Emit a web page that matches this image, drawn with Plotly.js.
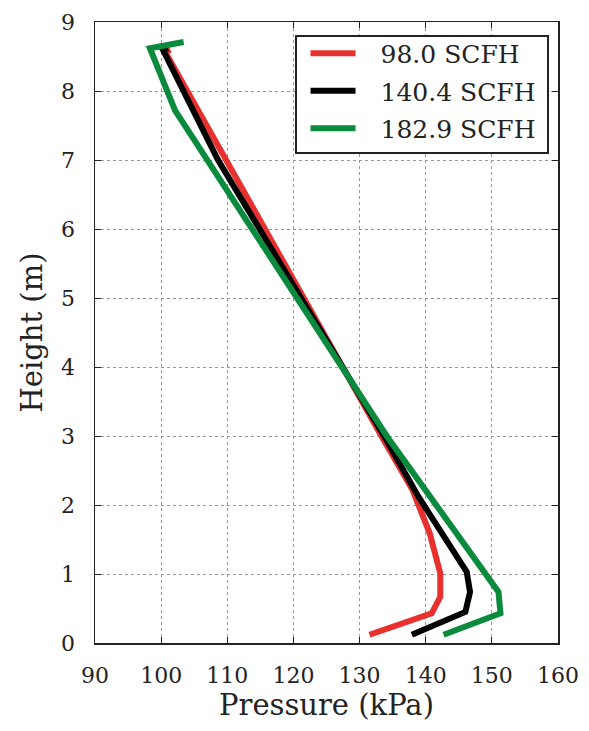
<!DOCTYPE html>
<html><head><meta charset="utf-8">
<script src="https://cdn.plot.ly/plotly-3.0.1.min.js"></script>
<style>html,body{margin:0;padding:0;background:#fff}#chart{width:589px;height:731px}</style>
</head><body><div id="chart"></div>
<script>
const seriesNames = ["98.0 SCFH", "140.4 SCFH", "182.9 SCFH"];
const seriesColors = ["#e8302f", "#000000", "#0a8a3c"];

const redHeight   = [0.12, 0.43, 0.67, 1.01, 1.59, 2.22, 3.0, 8.57, 8.6];
const redPressure = [131.5, 140.9, 142.2, 142.2, 140.6, 138.0, 133.3, 100.6, 101.4];

const blackHeight   = [0.12, 0.45, 0.74, 1.03, 2.12, 3.0, 7.0, 8.59, 8.62];
const blackPressure = [137.9, 146.0, 146.7, 146.2, 138.9, 133.7, 108.6, 100.3, 101.0];

const greenHeight   = [0.12, 0.43, 0.74, 3.0, 7.72, 8.62, 8.71];
const greenPressure = [142.7, 151.3, 151.0, 134.1, 102.1, 98.3, 103.4];

const xTicks = [90, 100, 110, 120, 130, 140, 150, 160];
const yTicks = [0, 1, 2, 3, 4, 5, 6, 7, 8, 9];

const xs = [redPressure, blackPressure, greenPressure];
const ys = [redHeight, blackHeight, greenHeight];
const FONT = "DejaVu Serif";

const traces = seriesNames.map((n, i) => ({
  type: "scatter", mode: "lines", name: n,
  x: xs[i], y: ys[i], legendgroup: "g" + i,
  line: {color: seriesColors[i], width: 6}
}));

const axisCommon = {
  showline: true, linecolor: "#222", linewidth: 1.5, mirror: "ticks",
  ticks: "inside", ticklen: 6, tickcolor: "#222", tickwidth: 1,
  showgrid: true, gridcolor: "#999", griddash: "dot", gridwidth: 1,
  zeroline: false, tickfont: {family: FONT, size: 22, color: "#222"}
};

const layout = {
  width: 589, height: 731,
  margin: {l: 95, r: 31, t: 22, b: 88},
  paper_bgcolor: "#fff", plot_bgcolor: "#fff",
  showlegend: true,
  xaxis: Object.assign({}, axisCommon, {
    range: [90, 160], tickvals: xTicks, ticktext: xTicks.map(String),
    ticklabelstandoff: 12,
    title: {text: "Pressure (kPa)", font: {family: FONT, size: 29, color: "#222"}, standoff: 6}
  }),
  yaxis: Object.assign({}, axisCommon, {
    range: [0, 9], tickvals: yTicks, ticktext: yTicks.map(String),
    ticklabelstandoff: 14,
    title: {text: "Height (m)", font: {family: FONT, size: 29, color: "#222"}, standoff: 10}
  }),
  legend: {
    x: 0.432, y: 0.979, xanchor: "left", yanchor: "top",
    bgcolor: "#fff", bordercolor: "#222", borderwidth: 1.5,
    font: {family: FONT, size: 25, color: "#222"},
    itemwidth: 45, tracegroupgap: 2
  }
};

Plotly.newPlot("chart", traces, layout, {displayModeBar: false, staticPlot: true}).then(gd => {
  // fine-tune legend spacing to match reference (symbol/text gap, box size)
  const leg = gd.querySelector(".legend");
  if (!leg) return;
  const bg = leg.querySelector("rect.bg");
  if (bg) { bg.setAttribute("width", 252); bg.setAttribute("height", 117); }
  const sb = leg.querySelector(".scrollbox");
  if (sb) sb.removeAttribute("clip-path");
  leg.querySelectorAll(".traces").forEach((t) => {
    const m = /translate\(\s*([-\d.]+)[ ,]+([-\d.]+)\)/.exec(t.getAttribute("transform") || "");
    if (m) t.setAttribute("transform", `translate(${m[1]},${parseFloat(m[2]) - 6})`);
    const txt = t.querySelector(".legendtext");
    if (txt) txt.setAttribute("x", parseFloat(txt.getAttribute("x") || 0) + 29);
    t.querySelectorAll("path").forEach(p => {
      const d = p.getAttribute("d") || "";
      const dm = /^M([-\d.]+),([-\d.]+)h([-\d.]+)$/.exec(d);
      if (dm) p.setAttribute("d", `M${parseFloat(dm[1]) + 9},${dm[2]}h${dm[3]}`);
    });
  });
});
</script></body></html>
